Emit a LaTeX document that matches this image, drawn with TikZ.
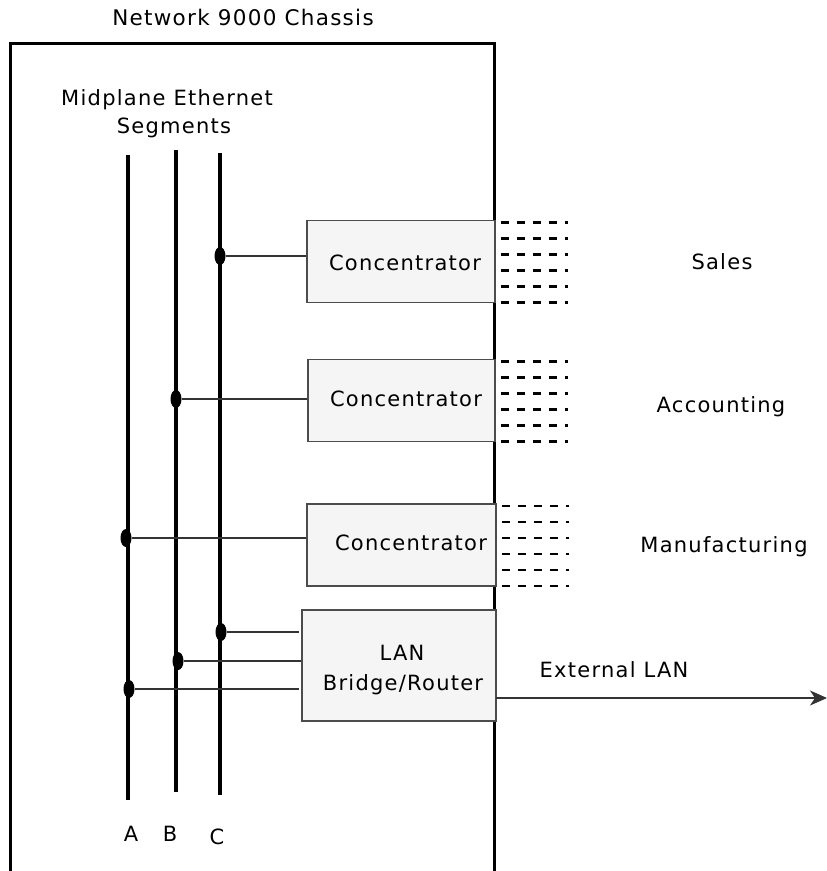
\documentclass[tikz,border=0pt]{standalone}
\usepackage{fontspec}
\setmainfont{DejaVu Sans}[LetterSpace=6]
\usetikzlibrary{arrows.meta,shapes.geometric}
\begin{document}
\begin{tikzpicture}[x=1pt,y=-1pt,
  lbl/.style={font=\fontsize{21}{25}\selectfont, inner sep=0pt},
  chassis/.style={line width=3pt, black},
  segment/.style={line width=3.5pt, black},
  tap/.style={ellipse, fill=black, minimum width=11pt, minimum height=18pt, inner sep=0pt},
  link/.style={line width=1.2pt, black!80},
  unit/.style={draw=black!70, line width=1.2pt, fill=black!4, minimum height=82pt, inner sep=0pt},
  port/.style={line width=2.5pt, black, dash pattern=on 8pt off 8pt},
]
\useasboundingbox (0,0) rectangle (827,871);

% chassis outline (open at the bottom)
\draw[chassis] (10,871) -- (10,43) -- (494,43) -- (494,871);
\node[lbl, font=\fontsize{21.5}{25}\selectfont] (title) at (243,17) {Network 9000 Chassis};
\node[lbl] (mid1) at (167,100) {Midplane Ethernet};
\node[lbl] (mid2) at (174,128) {Segments};

% midplane segments
\coordinate (Atop) at (128,155); \coordinate (Abot) at (128,800);
\coordinate (Btop) at (176,150); \coordinate (Bbot) at (176,792);
\coordinate (Ctop) at (220,153); \coordinate (Cbot) at (220,795);
\draw[segment] (Atop) -- (Abot);
\draw[segment] (Btop) -- (Bbot);
\draw[segment] (Ctop) -- (Cbot);
\node[lbl] (la) at (131,834) {A};
\node[lbl] (lb) at (170,834) {B};
\node[lbl] (lc) at (217,837) {C};

% concentrators and bridge
\node[unit, minimum width=188pt] (c1) at (401,261.5) {};
\node[lbl] at (405,263) {Concentrator};
\node[unit, minimum width=187pt] (c2) at (401.5,400.5) {};
\node[lbl] at (406,399) {Concentrator};
\node[unit, minimum width=189pt] (c3) at (401.5,545) {};
\node[lbl] at (411,543) {Concentrator};
\node[unit, minimum width=194pt, minimum height=111pt] (lan) at (399,665.5) {};
\node[lbl] (lant) at (402,653) {LAN};
\node[lbl] (lanb) at (403,685) {Bridge/Router};

% taps onto the segments
\node[tap] (t1) at (220,256) {};
\node[tap] (t2) at (176,399) {};
\node[tap] (t3) at (126,538) {};
\node[tap] (t4) at (221,632) {};
\node[tap] (t5) at (178,661) {};
\node[tap] (t6) at (129,689) {};
\draw[link] (t1) -- (t1 -| c1.west);
\draw[link] (t2) -- (t2 -| c2.west);
\draw[link] (t3) -- (t3 -| c3.west);
\draw[link] (t4) -- ([xshift=-2pt]t4 -| lan.west);
\draw[link] (t5) -- (t5 -| lan.west);
\draw[link] (t6) -- ([xshift=-2pt]t6 -| lan.west);

% ports
\foreach \c in {c1,c2,c3}{
  \foreach \k in {0,...,5}{
    \draw[port] ([xshift=5pt, yshift=-2.5pt-16*\k pt]\c.north east) -- ++(67,0);
  }
}

% department labels
\node[lbl] (sales) at (722,262) {Sales};
\node[lbl] (acct) at (721,407) {Accounting};
\node[lbl] (manu) at (724,547) {Manufacturing};

% uplink
\coordinate (lanout) at (496,698);
\coordinate (ext) at (827,698);
\draw[link, -{Stealth[length=17pt, width=15pt, inset=5pt]}] (lanout) -- (ext);
\node[lbl] (extl) at (614,670) {External LAN};
\end{tikzpicture}
\end{document}
